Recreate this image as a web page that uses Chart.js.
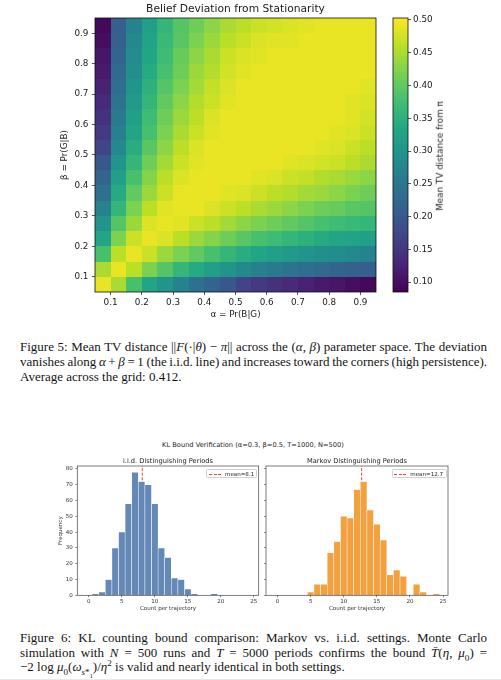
<!DOCTYPE html>
<html>
<head>
<meta charset="utf-8">
<script src="https://cdn.jsdelivr.net/npm/chart.js@4.4.1/dist/chart.umd.min.js"></script>
<style>
html,body{margin:0;padding:0;background:#fff;}
#page{position:relative;width:501px;height:680px;overflow:hidden;background:#fff;font-family:'DejaVu Sans',sans-serif;color:#1a1a1a;}
canvas{position:absolute;z-index:1;}
.lbl{position:absolute;white-space:nowrap;transform:translate(-50%,-50%);line-height:1.2;color:#1a1a1a;z-index:2;}
.cap{position:absolute;left:20px;width:467px;font-family:'Liberation Serif',serif;font-size:13px;line-height:14.6px;color:#141414;}
.cap .jl{white-space:nowrap;height:14.6px;}
.cap sub,.cap sup{font-size:70%;line-height:0;}
.leg{position:absolute;background:rgba(255,255,255,0.85);border:0.6px solid #d0d0d0;border-radius:1.5px;box-sizing:border-box;z-index:3;}
.leg .dash{position:absolute;top:3.7px;height:1px;background:repeating-linear-gradient(90deg,#e0443a 0 3px,transparent 3px 4.6px);}
.leg .lt{position:absolute;top:0;font-size:5.56px;line-height:8.4px;white-space:nowrap;color:#222;}
</style>
</head>
<body>
<div id="page">
  <div class="lbl" style="left:235.5px;top:9px;font-size:10.7px;">Belief Deviation from Stationarity</div>
  <canvas id="heat" width="390" height="325" style="left:0;top:0;"></canvas>
  <canvas id="cbar" width="121" height="325" style="left:380px;top:0;"></canvas>
  <div class="lbl" style="left:440px;top:156px;font-size:8.8px;transform:translate(-50%,-50%) rotate(-90deg);">Mean TV distance from π</div>

  <div class="cap" id="cap1" style="top:340.4px;">
    <div class="jl"><span>Figure 5: Mean TV distance ||<i>F</i>(·|<i>θ</i>) − <i>π</i>|| across the (<i>α</i>, <i>β</i>) parameter space. The deviation</span></div>
    <div class="jl"><span>vanishes along <i>α</i> + <i>β</i> = 1 (the i.i.d. line) and increases toward the corners (high persistence).</span></div>
    <div><span>Average across the grid: 0.412.</span></div>
  </div>

  <div class="lbl" style="left:253px;top:444.7px;font-size:6.67px;">KL Bound Verification (α=0.3, β=0.5, T=1000, N=500)</div>
  <div class="lbl" style="left:168px;top:461px;font-size:6.67px;">i.i.d. Distinguishing Periods</div>
  <div class="lbl" style="left:357px;top:461px;font-size:6.67px;">Markov Distinguishing Periods</div>
  <canvas id="hist1" width="225" height="160" style="left:40px;top:455px;"></canvas>
  <canvas id="hist2" width="195" height="160" style="left:262px;top:455px;"></canvas>
  <div class="leg" style="left:205.7px;top:469.3px;width:51px;height:8.6px;"><span class="dash" style="left:2.3px;width:12px;"></span><span class="lt" id="leg1" style="left:18.3px;"></span></div>
  <div class="leg" style="left:391.7px;top:469.3px;width:55px;height:8.6px;"><span class="dash" style="left:1.6px;width:12px;"></span><span class="lt" id="leg2" style="left:17.6px;"></span></div>

  <div class="cap" id="cap2" style="top:631px;">
    <div class="jl"><span>Figure 6: KL counting bound comparison: Markov vs. i.i.d. settings. Monte Carlo</span></div>
    <div class="jl"><span>simulation with <i>N</i> = 500 runs and <i>T</i> = 5000 periods confirms the bound <i>T̄</i>(<i>η</i>, <i>μ</i><sub>0</sub>) =</span></div>
    <div><span>−2 log <i>μ</i><sub>0</sub>(<i>ω</i><sub><i>s</i>*<sub>1</sub></sub>)/<i>η</i><sup>2</sup> is valid and nearly identical in both settings.</span></div>
  </div>
  <div style="position:absolute;left:0;top:678.5px;width:501px;height:1.5px;background:#e8e8e8;"></div>
</div>

<script>
// ---------------- data ----------------
const alphaCenters = [0.075,0.125,0.175,0.225,0.275,0.325,0.375,0.425,0.475,0.525,0.575,0.625,0.675,0.725,0.775,0.825,0.875,0.925];
const betaCenters  = [0.075,0.125,0.175,0.225,0.275,0.325,0.375,0.425,0.475,0.525,0.575,0.625,0.675,0.725,0.775,0.825,0.875,0.925];
const heatTicks = [0.1,0.2,0.3,0.4,0.5,0.6,0.7,0.8,0.9];
const colorbarTicks = [0.10,0.15,0.20,0.25,0.30,0.35,0.40,0.45,0.50];
// rows: beta from 0.075 (bottom) to 0.925 (top); columns: alpha 0.075 .. 0.925
const tvRows = [
 [0.49,0.45,0.38,0.33,0.30,0.27,0.24,0.22,0.20,0.17,0.155,0.145,0.135,0.125,0.115,0.11,0.10,0.095],
 [0.45,0.49,0.46,0.42,0.39,0.36,0.34,0.32,0.30,0.28,0.265,0.255,0.245,0.235,0.23,0.22,0.215,0.21],
 [0.38,0.46,0.49,0.47,0.44,0.42,0.40,0.38,0.36,0.345,0.33,0.32,0.31,0.30,0.29,0.285,0.28,0.27],
 [0.33,0.42,0.47,0.49,0.48,0.46,0.44,0.425,0.41,0.395,0.38,0.37,0.36,0.35,0.34,0.33,0.325,0.32],
 [0.30,0.39,0.44,0.48,0.49,0.485,0.47,0.46,0.445,0.43,0.42,0.41,0.40,0.39,0.38,0.37,0.365,0.36],
 [0.27,0.36,0.42,0.46,0.485,0.49,0.49,0.48,0.47,0.46,0.45,0.44,0.43,0.42,0.41,0.405,0.395,0.39],
 [0.24,0.34,0.40,0.44,0.47,0.49,0.49,0.49,0.485,0.48,0.47,0.46,0.455,0.445,0.44,0.43,0.42,0.41],
 [0.22,0.32,0.38,0.425,0.46,0.48,0.49,0.49,0.49,0.49,0.485,0.48,0.47,0.465,0.455,0.45,0.44,0.43],
 [0.20,0.30,0.36,0.41,0.445,0.47,0.485,0.49,0.49,0.49,0.49,0.49,0.485,0.48,0.475,0.47,0.46,0.45],
 [0.17,0.28,0.345,0.395,0.43,0.46,0.48,0.49,0.49,0.49,0.49,0.49,0.49,0.49,0.485,0.48,0.47,0.46],
 [0.155,0.265,0.33,0.38,0.42,0.45,0.47,0.485,0.49,0.49,0.49,0.49,0.49,0.49,0.49,0.485,0.48,0.47],
 [0.145,0.255,0.32,0.37,0.41,0.44,0.46,0.48,0.49,0.49,0.49,0.49,0.49,0.49,0.49,0.49,0.485,0.475],
 [0.135,0.245,0.31,0.36,0.40,0.43,0.455,0.47,0.485,0.49,0.49,0.49,0.49,0.49,0.49,0.49,0.485,0.48],
 [0.125,0.235,0.30,0.35,0.39,0.42,0.445,0.465,0.48,0.49,0.49,0.49,0.49,0.49,0.49,0.49,0.49,0.485],
 [0.115,0.23,0.29,0.34,0.38,0.41,0.44,0.455,0.475,0.485,0.49,0.49,0.49,0.49,0.49,0.49,0.49,0.49],
 [0.11,0.22,0.285,0.33,0.37,0.405,0.43,0.45,0.47,0.48,0.485,0.49,0.49,0.49,0.49,0.49,0.49,0.49],
 [0.10,0.215,0.28,0.325,0.365,0.395,0.42,0.44,0.46,0.47,0.48,0.485,0.485,0.49,0.49,0.49,0.49,0.49],
 [0.095,0.21,0.27,0.32,0.36,0.39,0.41,0.43,0.45,0.46,0.47,0.475,0.48,0.485,0.49,0.49,0.49,0.49]
];
const countBins    = [0,1,2,3,4,5,6,7,8,9,10,11,12,13,14,15,16,17,18,19,20,21,22,23,24];
const iidCounts    = [0,1,2,10,30,40,58,78,72,70,58,30,24,11,10,4,1,0,0,1,0,0,0,0,0];
const markovCounts = [0,0,0,0,0,2,7,7,27,34,50,49,67,72,54,45,35,13,16,12,0,7,2,0,1];
const iidMean = 8.1;
const markovMean = 12.7;
const histXTicks = [0,5,10,15,20,25];
const freqTicks = [0,10,20,30,40,50,60,70,80];

// ---------------- styling / layout constants ----------------
const cellHalf = 0.025;
const cbMin = 0.085, cbMax = 0.503;
const histYMax = 81.9, histXMin = -1.75, histXMax = 25.75;
const viridisStops = ['#440154','#482475','#414487','#355f8d','#2a788e','#21918c','#22a884','#44bf70','#7ad151','#bddf26','#fde725'];

function hexRgb(h){return [parseInt(h.slice(1,3),16),parseInt(h.slice(3,5),16),parseInt(h.slice(5,7),16)];}
const viridisRgb = viridisStops.map(hexRgb);
function viridis(t){
  t = Math.max(0, Math.min(1, t));
  const p = t * 10, i = Math.min(9, Math.floor(p)), f = p - i;
  const a = viridisRgb[i], b = viridisRgb[i+1];
  return 'rgb(' + [0,1,2].map(k => Math.round(a[k] + (b[k]-a[k])*f)).join(',') + ')';
}

Chart.defaults.font.family = "'DejaVu Sans', sans-serif";
Chart.defaults.color = '#1a1a1a';

const framePlugin = {
  id: 'frame',
  afterDatasetsDraw(chart, args, opts) {
    const {ctx, chartArea: a} = chart;
    ctx.save();
    ctx.strokeStyle = opts.color || '#000';
    ctx.lineWidth = opts.width || 0.8;
    ctx.strokeRect(a.left, a.top, a.right - a.left, a.bottom - a.top);
    ctx.restore();
  }
};

const heatPlugin = {
  id: 'heatcells',
  beforeDatasetsDraw(chart) {
    const {ctx, scales: {x, y}} = chart;
    const data = chart.data.datasets[0].data;
    ctx.save();
    data.forEach(c => {
      const x0 = Math.round(x.getPixelForValue(c.x - cellHalf));
      const x1 = Math.round(x.getPixelForValue(c.x + cellHalf));
      const y0 = Math.round(y.getPixelForValue(c.y - cellHalf));
      const y1 = Math.round(y.getPixelForValue(c.y + cellHalf));
      ctx.fillStyle = viridis((c.v - cbMin) / (cbMax - cbMin));
      ctx.fillRect(x0, y1, x1 - x0, y0 - y1);
    });
    ctx.restore();
  }
};

const colorbarPlugin = {
  id: 'cbfill',
  beforeDatasetsDraw(chart) {
    const {ctx, chartArea: a, scales: {y}} = chart;
    const yb = y.getPixelForValue(cbMin), yt = y.getPixelForValue(cbMax);
    const g = ctx.createLinearGradient(0, yb, 0, yt);
    viridisStops.forEach((c, i) => g.addColorStop(i / 10, c));
    ctx.save();
    ctx.fillStyle = g;
    ctx.fillRect(a.left, yt, a.right - a.left, yb - yt);
    ctx.restore();
  }
};

// ---------------- heatmap ----------------
const cells = [];
betaCenters.forEach((b, bi) => alphaCenters.forEach((a, ai) => cells.push({x: a, y: b, v: tvRows[bi][ai]})));

const tickFontHeat = {size: 8.8};
new Chart(document.getElementById('heat'), {
  type: 'scatter',
  data: {datasets: [{data: cells, pointRadius: 0, pointHoverRadius: 0}]},
  options: {
    responsive: false, animation: false, events: [],
    layout: {padding: {left: 0, top: 18, right: 14, bottom: 0}},
    plugins: {legend: {display: false}, tooltip: {enabled: false}, frame: {color: '#111', width: 0.8}},
    scales: {
      x: {
        type: 'linear', min: 0.05, max: 0.95,
        afterBuildTicks: s => { s.ticks = heatTicks.map(v => ({value: v})); },
        afterFit: s => { s.height = 33; },
        ticks: {callback: v => v.toFixed(1), font: tickFontHeat, color: '#1a1a1a', padding: 2, maxRotation: 0, autoSkip: false},
        grid: {display: true, drawOnChartArea: false, drawTicks: true, tickLength: 3.1, color: '#111', lineWidth: 0.7},
        border: {display: false},
        title: {display: true, text: 'α = Pr(B|G)', font: {size: 8.8}, color: '#1a1a1a', padding: {top: 0, bottom: 4.7}}
      },
      y: {
        type: 'linear', min: 0.05, max: 0.95,
        afterBuildTicks: s => { s.ticks = heatTicks.map(v => ({value: v})); },
        afterFit: s => { s.width = 95; },
        ticks: {callback: v => v.toFixed(1), font: tickFontHeat, color: '#1a1a1a', padding: 3.5, autoSkip: false},
        grid: {display: true, drawOnChartArea: false, drawTicks: true, tickLength: 3.1, color: '#111', lineWidth: 0.7},
        border: {display: false},
        title: {display: true, text: 'β = Pr(G|B)', font: {size: 8.8}, color: '#1a1a1a', padding: {top: 59.7, bottom: 0}}
      }
    }
  },
  plugins: [heatPlugin, framePlugin]
});

// ---------------- colorbar ----------------
new Chart(document.getElementById('cbar'), {
  type: 'scatter',
  data: {datasets: [{data: [], pointRadius: 0}]},
  options: {
    responsive: false, animation: false, events: [],
    layout: {padding: {left: 13, top: 18, right: 0, bottom: 33}},
    plugins: {legend: {display: false}, tooltip: {enabled: false}, frame: {color: '#111', width: 0.8}},
    scales: {
      x: {type: 'linear', display: false, min: 0, max: 1},
      y: {
        type: 'linear', position: 'right', min: cbMin, max: cbMax,
        afterBuildTicks: s => { s.ticks = colorbarTicks.map(v => ({value: v})); },
        afterFit: s => { s.width = 93; },
        ticks: {callback: v => v.toFixed(2), font: tickFontHeat, color: '#1a1a1a', padding: 2, autoSkip: false},
        grid: {display: true, drawOnChartArea: false, drawTicks: true, tickLength: 3.1, color: '#111', lineWidth: 0.7},
        border: {display: false}
      }
    }
  },
  plugins: [colorbarPlugin, framePlugin]
});

// ---------------- histograms ----------------
function histChart(id, counts, mean, color, showY, pad) {
  return new Chart(document.getElementById(id), {
    type: 'bar',
    data: {datasets: [
      {type: 'bar', data: countBins.map((b, i) => ({x: b, y: counts[i]})), backgroundColor: color,
       borderColor: '#ffffff', borderWidth: 0.55, borderSkipped: 'bottom', barPercentage: 1, categoryPercentage: 1},
      {type: 'line', data: [{x: mean, y: 0}, {x: mean, y: histYMax}], borderColor: '#e0443a',
       borderWidth: 1, borderDash: [3, 1.6], pointRadius: 0, fill: false}
    ]},
    options: {
      responsive: false, animation: false, events: [],
      layout: {padding: pad},
      plugins: {legend: {display: false}, tooltip: {enabled: false}, frame: {color: '#444', width: 0.7}},
      scales: {
        x: {
          type: 'linear', min: histXMin, max: histXMax, offset: false,
          afterBuildTicks: s => { s.ticks = histXTicks.map(v => ({value: v})); },
          afterFit: s => { s.height = 19.7; },
          ticks: {font: {size: 5.56}, color: '#333', padding: 1, maxRotation: 0, autoSkip: false},
          grid: {display: true, offset: false, drawOnChartArea: false, drawTicks: true, tickLength: 2, color: '#444', lineWidth: 0.6},
          border: {display: false},
          title: {display: true, text: 'Count per trajectory', font: {size: 5.56}, color: '#333', padding: {top: 0, bottom: 2.7}}
        },
        y: {
          type: 'linear', min: 0, max: histYMax,
          afterBuildTicks: s => { s.ticks = freqTicks.map(v => ({value: v})); },
          afterFit: s => { s.width = showY ? 37.3 : 4; },
          ticks: {display: showY, font: {size: 5.56}, color: '#333', padding: 2.5, autoSkip: false},
          grid: {display: true, drawOnChartArea: false, drawTicks: true, tickLength: 2, color: '#444', lineWidth: 0.6},
          border: {display: false},
          title: {display: showY, text: 'Frequency', font: {size: 5.56}, color: '#333', padding: {top: 17.7, bottom: 0}}
        }
      }
    },
    plugins: [framePlugin]
  });
}
histChart('hist1', iidCounts, iidMean, '#6489b7', true, {left: 0, top: 11, right: 6.3, bottom: 0});
histChart('hist2', markovCounts, markovMean, '#f2a13e', false, {left: 0, top: 11, right: 9, bottom: 0});
document.getElementById('leg1').textContent = 'mean=' + iidMean.toFixed(1);
document.getElementById('leg2').textContent = 'mean=' + markovMean.toFixed(1);

// ---------------- justify caption lines ----------------
function justify() {
  document.querySelectorAll('.cap .jl').forEach(line => {
    const span = line.firstElementChild;
    span.style.wordSpacing = '0px';
    const w = span.getBoundingClientRect().width;
    const spaces = (span.textContent.match(/ /g) || []).length;
    if (spaces > 0) span.style.wordSpacing = ((467 - w) / spaces) + 'px';
  });
}
justify();
if (document.fonts && document.fonts.ready) document.fonts.ready.then(justify);
</script>
</body>
</html>
